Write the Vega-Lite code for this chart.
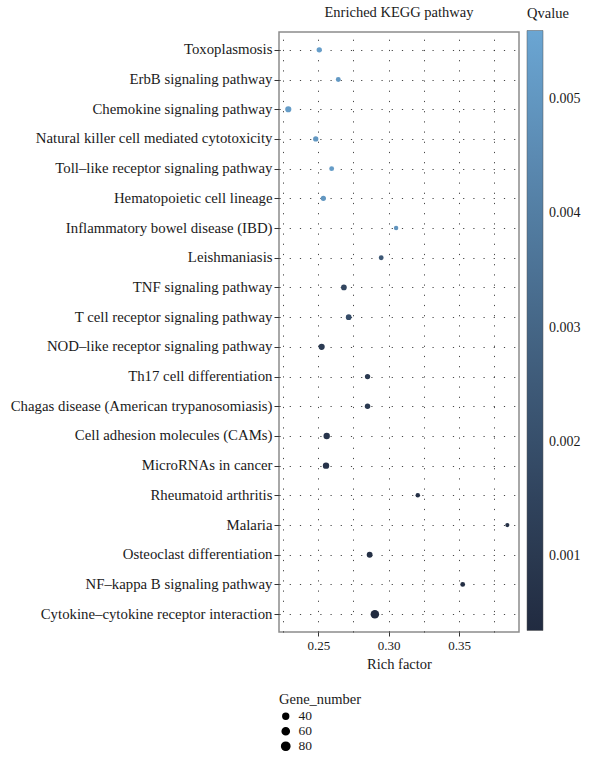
{
  "$schema": "https://vega.github.io/schema/vega-lite/v6.json",
  "width": 240,
  "height": 600,
  "autosize": {"type": "none"},
  "padding": {"left": 279, "top": 32, "right": 72, "bottom": 126},
  "title": {"text": "Enriched KEGG pathway", "font": "Liberation Serif", "fontSize": 14.5, "fontWeight": "normal", "color": "#1a1a1a", "anchor": "middle", "offset": 10, "dy": 23},
  "config": {
    "view": {"stroke": "#8c8c8c", "strokeWidth": 1.5},
    "font": "Liberation Serif",
    "axis": {"labelFont": "Liberation Serif", "titleFont": "Liberation Serif", "labelColor": "#1a1a1a", "titleColor": "#1a1a1a", "titleFontWeight": "normal"},
    "legend": {"labelFont": "Liberation Serif", "titleFont": "Liberation Serif", "labelColor": "#1a1a1a", "titleColor": "#1a1a1a", "titleFontWeight": "normal"}
  },
  "data": {"values": [
    {"pathway": "Toxoplasmosis", "rich": 0.2507, "q": 0.0053, "genes": 33},
    {"pathway": "ErbB signaling pathway", "rich": 0.2642, "q": 0.0051, "genes": 28},
    {"pathway": "Chemokine signaling pathway", "rich": 0.2287, "q": 0.0052, "genes": 45},
    {"pathway": "Natural killer cell mediated cytotoxicity", "rich": 0.2482, "q": 0.0050, "genes": 33},
    {"pathway": "Toll\u2013like receptor signaling pathway", "rich": 0.2595, "q": 0.0052, "genes": 28},
    {"pathway": "Hematopoietic cell lineage", "rich": 0.2536, "q": 0.0050, "genes": 33},
    {"pathway": "Inflammatory bowel disease (IBD)", "rich": 0.3053, "q": 0.0049, "genes": 23},
    {"pathway": "Leishmaniasis", "rich": 0.2947, "q": 0.0024, "genes": 28},
    {"pathway": "TNF signaling pathway", "rich": 0.2682, "q": 0.0016, "genes": 38},
    {"pathway": "T cell receptor signaling pathway", "rich": 0.2716, "q": 0.0019, "genes": 38},
    {"pathway": "NOD\u2013like receptor signaling pathway", "rich": 0.2524, "q": 0.0011, "genes": 45},
    {"pathway": "Th17 cell differentiation", "rich": 0.2850, "q": 0.0010, "genes": 33},
    {"pathway": "Chagas disease (American trypanosomiasis)", "rich": 0.2850, "q": 0.0010, "genes": 35},
    {"pathway": "Cell adhesion molecules (CAMs)", "rich": 0.2560, "q": 0.0008, "genes": 48},
    {"pathway": "MicroRNAs in cancer", "rich": 0.2555, "q": 0.0007, "genes": 48},
    {"pathway": "Rheumatoid arthritis", "rich": 0.3207, "q": 0.0006, "genes": 24},
    {"pathway": "Malaria", "rich": 0.3843, "q": 0.0006, "genes": 20},
    {"pathway": "Osteoclast differentiation", "rich": 0.2865, "q": 0.0006, "genes": 40},
    {"pathway": "NF\u2013kappa B signaling pathway", "rich": 0.3526, "q": 0.0005, "genes": 27},
    {"pathway": "Cytokine\u2013cytokine receptor interaction", "rich": 0.2902, "q": 0.00035, "genes": 85}
  ]},
  "mark": {"type": "circle", "opacity": 1},
  "encoding": {
    "x": {
      "field": "rich", "type": "quantitative", "title": "Rich factor",
      "scale": {"domain": [0.2221, 0.3926], "nice": false, "zero": false},
      "axis": {
        "values": [0.225, 0.25, 0.275, 0.3, 0.325, 0.35, 0.375],
        "labelExpr": "abs(datum.value*20 - round(datum.value*20)) < 0.001 ? format(datum.value, '.2f') : ''",
        "labelFontSize": 13, "titleFontSize": 14.5, "labelPadding": 3, "titlePadding": 5,
        "domain": false, "tickColor": "#333", "tickSize": 4,
        "tickOpacity": {"condition": {"test": "abs(datum.value*20 - round(datum.value*20)) < 0.001", "value": 1}, "value": 0},
        "grid": true, "gridColor": "#333", "gridDash": [1.2, 9], "gridWidth": 1, "gridOpacity": 0.9
      }
    },
    "y": {
      "field": "pathway", "type": "nominal", "title": null, "sort": null,
      "scale": {"padding": 0.6},
      "axis": {
        "labelFontSize": 14.8, "labelPadding": 2, "domain": false, "tickColor": "#333", "tickSize": 5,
        "grid": true, "gridColor": "#333", "gridDash": [1.2, 9], "gridWidth": 1, "gridOpacity": 0.9,
        "labelLimit": 300
      }
    },
    "color": {
      "field": "q", "type": "quantitative", "title": "Qvalue",
      "scale": {"domain": [0.00035, 0.0056], "range": ["#212b40", "#6ba6d3"], "interpolate": "lab"},
      "legend": {
        "orient": "none", "legendX": 248, "legendY": -25, "direction": "vertical",
        "gradientLength": 600, "gradientThickness": 16, "gradientStrokeColor": "#555", "gradientStrokeWidth": 0.5,
        "values": [0.001, 0.002, 0.003, 0.004, 0.005], "format": ".3f",
        "labelFontSize": 14, "titleFontSize": 14.5, "titlePadding": 9, "labelOffset": 6
      }
    },
    "size": {
      "field": "genes", "type": "quantitative", "title": "Gene_number",
      "scale": {"domain": [0, 100], "range": [0, 85], "zero": true},
      "legend": {
        "orient": "none", "legendX": 0, "legendY": 661, "values": [40, 60, 80],
        "symbolFillColor": "#000", "symbolStrokeColor": "#000", "symbolType": "circle", "symbolOpacity": 1,
        "labelFontSize": 13.5, "titleFontSize": 14.5, "rowPadding": 0, "titlePadding": 2, "labelOffset": 6
      }
    }
  }
}
